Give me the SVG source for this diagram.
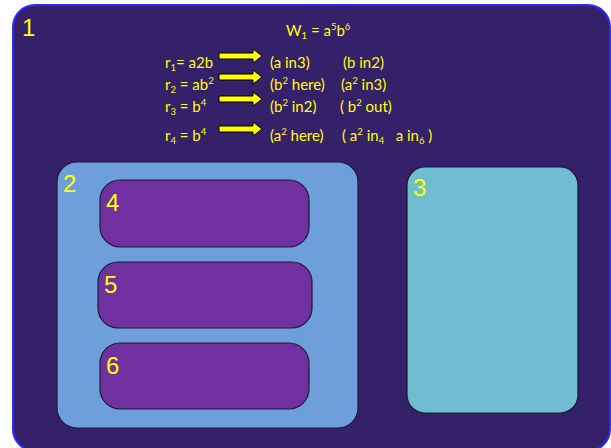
<svg xmlns="http://www.w3.org/2000/svg" width="611" height="448" viewBox="0 0 611 448">
  <style>
    .box { stroke: #1a1a33; stroke-width: 1.2; }
    .label { font-family: "Liberation Sans", Arial, sans-serif; font-size: 24px; fill: #ffff00; }
    .eq { font-family: Lato, "Liberation Sans", sans-serif; font-size: 15px; fill: #ffff00; }
    .s { font-size: 9.5px; }
  </style>
  <defs>
    <!-- block arrow, origin at the middle of its tail -->
    <path id="blockArrow" d="M0,-3 H34 V-7 L43,0 L34,7 V3 H0 Z" fill="#ffff00" stroke="#000000" stroke-width="1"/>
  </defs>

  <rect width="611" height="448" fill="#ffffff"/>

  <g id="node-1">
    <rect x="13" y="5" width="597" height="446" rx="22" ry="22" fill="#35206a" stroke="#2a2aff" stroke-width="2"/>
    <text class="label" x="22" y="36">1</text>
  </g>

  <g id="equations" class="eq">
    <text x="286" y="36">W<tspan class="s" dy="3">1</tspan><tspan dy="-3"> = a</tspan><tspan class="s" dy="-6">5</tspan><tspan dy="6">b</tspan><tspan class="s" dy="-6">6</tspan></text>

    <text x="165" y="68">r<tspan class="s" dy="3">1</tspan><tspan dy="-3">= a2b</tspan></text>
    <text x="165" y="90">r<tspan class="s" dy="3">2</tspan><tspan dy="-3"> = ab</tspan><tspan class="s" dy="-6">2</tspan></text>
    <text x="165" y="112">r<tspan class="s" dy="3">3</tspan><tspan dy="-3"> = b</tspan><tspan class="s" dy="-6">4</tspan></text>
    <text x="165" y="141">r<tspan class="s" dy="3">4</tspan><tspan dy="-3"> = b</tspan><tspan class="s" dy="-6">4</tspan></text>

    <text x="270" y="68">(a in3)</text>
    <text x="343" y="68">(b in2)</text>

    <text x="270" y="90">(b<tspan class="s" dy="-6">2</tspan><tspan dy="6"> here)</tspan></text>
    <text x="341" y="90">(a<tspan class="s" dy="-6">2</tspan><tspan dy="6"> in3)</tspan></text>

    <text x="270" y="112">(b<tspan class="s" dy="-6">2</tspan><tspan dy="6"> in2)</tspan></text>
    <text x="340" y="112">( b<tspan class="s" dy="-6">2</tspan><tspan dy="6"> out)</tspan></text>

    <text x="270" y="141">(a<tspan class="s" dy="-6">2</tspan><tspan dy="6"> here)</tspan></text>
    <text x="342" y="141">( a<tspan class="s" dy="-6">2</tspan><tspan dy="6"> in</tspan><tspan class="s" dy="3">4</tspan><tspan dy="-3" xml:space="preserve">   a in</tspan><tspan class="s" dy="3">6</tspan><tspan dy="-3"> )</tspan></text>
  </g>

  <g id="arrows">
    <use href="#blockArrow" x="219" y="56"/>
    <use href="#blockArrow" x="219" y="77"/>
    <use href="#blockArrow" x="219" y="99"/>
    <use href="#blockArrow" x="219" y="129"/>
  </g>

  <g id="node-2">
    <rect class="box" x="57" y="162" width="301" height="266" rx="20" ry="20" fill="#6f9fda"/>
    <text class="label" x="63" y="192">2</text>
  </g>

  <g id="node-4">
    <rect class="box" x="100" y="180" width="209" height="67" rx="20" ry="20" fill="#7030a0"/>
    <text class="label" x="106" y="211">4</text>
  </g>

  <g id="node-5">
    <rect class="box" x="98" y="262" width="214" height="66" rx="20" ry="20" fill="#7030a0"/>
    <text class="label" x="104" y="293">5</text>
  </g>

  <g id="node-6">
    <rect class="box" x="100" y="343" width="209" height="66" rx="20" ry="20" fill="#7030a0"/>
    <text class="label" x="106" y="374">6</text>
  </g>

  <g id="node-3">
    <rect class="box" x="407" y="167" width="171" height="246" rx="18" ry="18" fill="#70bdd2"/>
    <text class="label" x="413" y="196">3</text>
  </g>
</svg>
